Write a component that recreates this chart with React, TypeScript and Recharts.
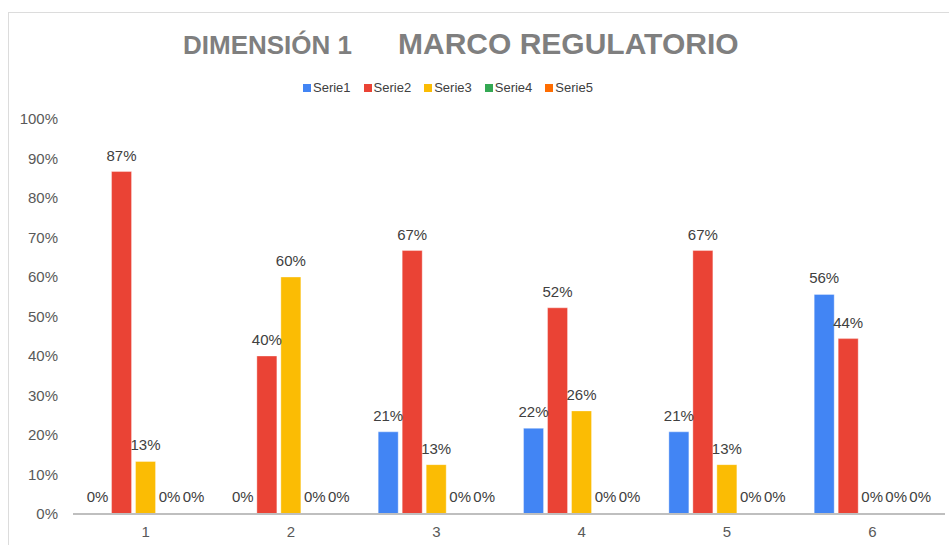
import React from "react";
import { Bar, BarChart, LabelList, Rectangle, XAxis, YAxis } from "recharts";

const categories = ["1", "2", "3", "4", "5", "6"];
const serie1 = [0, 0, 0.208, 0.217, 0.208, 0.556];
const serie2 = [0.867, 0.4, 0.667, 0.522, 0.667, 0.444];
const serie3 = [0.133, 0.6, 0.125, 0.261, 0.125, 0];
const serie4 = [0, 0, 0, 0, 0, 0];
const serie5 = [0, 0, 0, 0, 0, 0];
const yTicks = [0, 0.1, 0.2, 0.3, 0.4, 0.5, 0.6, 0.7, 0.8, 0.9, 1];

const SERIES = [
  { key: "Serie1", values: serie1, color: "#4285f4" },
  { key: "Serie2", values: serie2, color: "#ea4335" },
  { key: "Serie3", values: serie3, color: "#fbbc04" },
  { key: "Serie4", values: serie4, color: "#34a853" },
  { key: "Serie5", values: serie5, color: "#ff6d01" },
];

const data = categories.map((name, i) => {
  const row: Record<string, any> = { name };
  SERIES.forEach((s) => (row[s.key] = s.values[i]));
  return row;
});

const FONT = '"Liberation Sans", Arial, sans-serif';
const pct = (v: number) => `${Math.round(v * 100)}%`;

// zero values get a 1px placeholder so their "0%" label is still drawn, but no visible rect
const BarShape = (p: any) => (p.height > 1.5 ? <Rectangle {...p} /> : <g />);

export default function App() {
  return (
    <div
      style={{
        position: "absolute",
        left: 8,
        top: 12,
        width: 941,
        height: 533,
        borderLeft: "1px solid #dcdcdc",
        borderTop: "1px solid #dcdcdc",
        boxSizing: "border-box",
        fontFamily: FONT,
        background: "#fff",
      }}
    >
      <div
        style={{
          position: "absolute",
          left: 174,
          top: 17,
          fontWeight: "bold",
          color: "#7f7f7f",
          fontSize: 26,
          whiteSpace: "nowrap",
        }}
      >
        DIMENSIÓN 1
      </div>
      <div
        style={{
          position: "absolute",
          left: 389,
          top: 14,
          fontWeight: "bold",
          color: "#7f7f7f",
          fontSize: 30,
          whiteSpace: "nowrap",
        }}
      >
        MARCO REGULATORIO
      </div>
      <div
        style={{
          position: "absolute",
          left: 294,
          top: 67,
          display: "flex",
          gap: 13,
          fontSize: 13,
          color: "#404040",
        }}
      >
        {SERIES.map((s) => (
          <div key={s.key} style={{ display: "flex", alignItems: "center" }}>
            <span style={{ display: "inline-block", width: 8, height: 8, background: s.color, marginRight: 2 }} />
            <span>{s.key}</span>
          </div>
        ))}
      </div>
      <div style={{ position: "absolute", left: 0, top: 0 }}>
        <BarChart
          width={940}
          height={532}
          data={data}
          margin={{ top: 106, right: 4, left: 0, bottom: 0 }}
          barCategoryGap="10%"
          barGap={4}
        >
          <XAxis
            dataKey="name"
            height={31}
            tickLine={false}
            axisLine={{ stroke: "#bfbfbf", strokeWidth: 2 }}
            tickMargin={6}
            tick={{ fill: "#595959", fontSize: 15, fontFamily: FONT }}
          />
          <YAxis
            width={64}
            domain={[0, 1]}
            ticks={yTicks}
            tickFormatter={pct}
            axisLine={false}
            tickLine={false}
            tickMargin={9}
            tick={{ fill: "#595959", fontSize: 15, fontFamily: FONT }}
          />
          {SERIES.map((s) => (
            <Bar
              key={s.key}
              dataKey={s.key}
              fill={s.color}
              stroke="rgba(255,255,255,0.35)"
              minPointSize={1}
              shape={BarShape}
              isAnimationActive={false}
            >
              <LabelList
                dataKey={s.key}
                position="top"
                offset={11}
                formatter={(v: any) => pct(Number(v))}
                style={{ fill: "#404040", fontSize: 15, fontFamily: FONT }}
              />
            </Bar>
          ))}
        </BarChart>
      </div>
    </div>
  );
}
